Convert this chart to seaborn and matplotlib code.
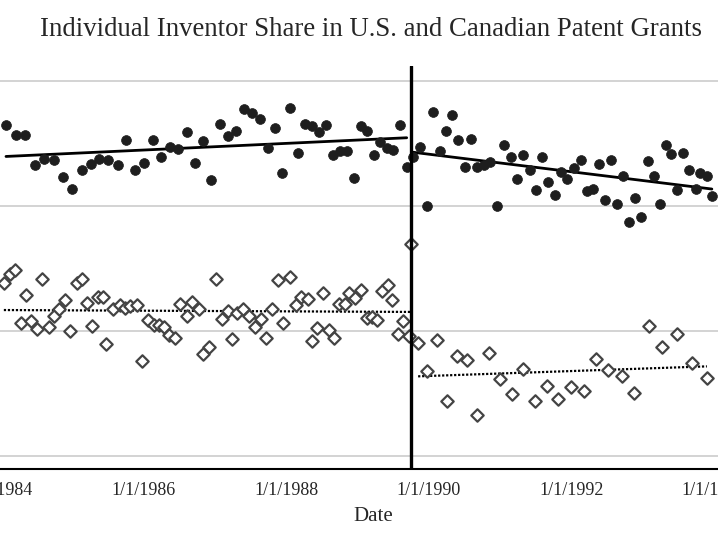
import matplotlib
matplotlib.use("Agg")
import matplotlib.pyplot as plt
import seaborn as sns

# Dates as decimal years, share values in percent
us_pre_year = [1984.07, 1984.21, 1984.34, 1984.48, 1984.60, 1984.74, 1984.87,
               1985.00, 1985.14, 1985.26, 1985.37, 1985.50, 1985.64, 1985.75, 1985.88,
               1986.01, 1986.13, 1986.24, 1986.37, 1986.48, 1986.61, 1986.72, 1986.83, 1986.95,
               1987.07, 1987.18, 1987.30, 1987.41, 1987.52, 1987.63, 1987.75, 1987.84, 1987.94,
               1988.05, 1988.17, 1988.26, 1988.36, 1988.46, 1988.56, 1988.66, 1988.76, 1988.85, 1988.95,
               1989.05, 1989.13, 1989.23, 1989.32, 1989.41, 1989.50, 1989.60, 1989.69]
us_pre_share = [23.24, 22.84, 22.84, 21.63, 21.88, 21.84, 21.15,
                20.67, 21.43, 21.67, 21.88, 21.84, 21.63, 22.64, 21.43,
                21.72, 22.64, 21.96, 22.36, 22.28, 22.96, 21.72, 22.60, 21.03,
                23.28, 22.80, 23.00, 23.88, 23.72, 23.48, 22.32, 23.12, 21.31,
                23.92, 22.12, 23.28, 23.20, 22.96, 23.24, 22.04, 22.20, 22.20, 21.11,
                23.20, 23.00, 22.04, 22.56, 22.32, 22.24, 23.24, 21.55]

us_post_year = [1989.78, 1989.88, 1989.97,
                1990.06, 1990.16, 1990.24, 1990.33, 1990.41, 1990.51, 1990.59, 1990.68, 1990.77, 1990.86, 1990.96,
                1991.05, 1991.15, 1991.24, 1991.32, 1991.42, 1991.50, 1991.59, 1991.67, 1991.77, 1991.85, 1991.94,
                1992.04, 1992.13, 1992.22, 1992.30, 1992.39, 1992.47, 1992.56, 1992.64, 1992.72, 1992.81, 1992.89, 1992.98,
                1993.07, 1993.16, 1993.24, 1993.33, 1993.40, 1993.48, 1993.57, 1993.65, 1993.75, 1993.80, 1993.90, 1993.97]
us_post_share = [21.96, 22.36, 19.99,
                 23.76, 22.20, 23.00, 23.64, 22.64, 21.55, 22.68, 21.55, 21.63, 21.76, 19.99,
                 22.44, 21.96, 21.07, 22.04, 21.43, 20.63, 21.96, 20.95, 20.43, 21.35, 21.07,
                 21.51, 21.84, 20.59, 20.67, 21.67, 20.23, 21.84, 20.07, 21.19, 19.35, 20.31, 19.55,
                 21.80, 21.19, 20.07, 22.44, 22.08, 20.63, 22.12, 21.43, 20.67, 21.31, 21.19, 20.39]

ca_pre_year = [1984.04, 1984.13, 1984.20, 1984.28, 1984.35, 1984.42, 1984.50, 1984.58, 1984.67, 1984.74,
               1984.81, 1984.90, 1984.97, 1985.07, 1985.14, 1985.21, 1985.28, 1985.36, 1985.43, 1985.47,
               1985.57, 1985.67, 1985.74, 1985.81, 1985.91, 1985.98, 1986.06, 1986.15, 1986.22, 1986.29,
               1986.36, 1986.44, 1986.51, 1986.61, 1986.68, 1986.78, 1986.83, 1986.92, 1987.02, 1987.10,
               1987.18, 1987.24, 1987.31, 1987.39, 1987.48, 1987.56, 1987.65, 1987.72, 1987.80, 1987.88,
               1987.96, 1988.05, 1988.14, 1988.21, 1988.31, 1988.36, 1988.43, 1988.52, 1988.60, 1988.67,
               1988.74, 1988.82, 1988.88, 1988.96, 1989.05, 1989.13, 1989.20, 1989.27, 1989.34, 1989.43,
               1989.48, 1989.57, 1989.64, 1989.72, 1989.75]
ca_pre_share = [16.91, 17.27, 17.43, 15.31, 16.43, 15.39, 15.07, 17.07, 15.15, 15.59,
                15.87, 16.23, 14.99, 16.91, 17.07, 16.11, 15.19, 16.35, 16.35, 14.46,
                15.87, 16.03, 15.91, 15.99, 16.03, 13.78, 15.43, 15.23, 15.23, 15.15,
                14.82, 14.70, 16.07, 15.59, 16.15, 15.87, 14.06, 14.34, 17.07, 15.47,
                15.79, 14.66, 15.71, 15.87, 15.59, 15.15, 15.47, 14.70, 15.87, 17.03,
                15.31, 17.15, 16.03, 16.35, 16.27, 14.58, 15.11, 16.51, 15.03, 14.70,
                16.07, 16.07, 16.51, 16.31, 16.63, 15.51, 15.55, 15.43, 16.59, 16.83,
                16.23, 14.86, 15.39, 14.78, 18.47]

ca_post_year = [1989.85, 1989.97, 1990.11, 1990.26, 1990.40, 1990.54, 1990.68, 1990.84, 1991.00, 1991.17,
                1991.32, 1991.49, 1991.66, 1991.81, 1991.99, 1992.18, 1992.35, 1992.51, 1992.71, 1992.88,
                1993.09, 1993.27, 1993.48, 1993.69, 1993.90]
ca_post_share = [14.50, 13.38, 14.62, 12.18, 13.98, 13.82, 11.62, 14.10, 13.06, 12.46,
                 13.46, 12.18, 12.78, 12.26, 12.74, 12.58, 13.86, 13.43, 13.18, 12.50,
                 15.19, 14.34, 14.86, 13.70, 13.10]

break_year = 1989.75
tick_years = [1984, 1986, 1988, 1990, 1992, 1994]
tick_labels = [f"1/1/{y}" for y in tick_years]

sns.set_style("white")
plt.rcParams["font.family"] = ["Liberation Serif", "DejaVu Serif"]

fig = plt.figure(figsize=(7.18, 5.39), dpi=100)
ax = fig.add_axes([0, 0.1299, 1, 0.7477])

# trend lines (linear fits per segment)
for xs, ys, ls, lw in [(us_pre_year, us_pre_share, "-", 2.0),
                       (us_post_year, us_post_share, "-", 2.0),
                       (ca_pre_year, ca_pre_share, (0, (1, 0.8)), 1.6),
                       (ca_post_year, ca_post_share, (0, (1, 0.8)), 1.6)]:
    sns.regplot(x=xs, y=ys, ax=ax, scatter=False, ci=None, truncate=True,
                line_kws=dict(color="black", linestyle=ls, linewidth=lw, zorder=2))

# Canadian share: open diamonds
sns.scatterplot(x=ca_pre_year + ca_post_year, y=ca_pre_share + ca_post_share, ax=ax,
                marker="D", s=40, color="white", edgecolor="#444444", linewidth=1.6, zorder=3)
# U.S. share: filled dots
sns.scatterplot(x=us_pre_year + us_post_year, y=us_pre_share + us_post_share, ax=ax,
                marker="o", s=50, color="#1e1e1e", edgecolor="#1e1e1e", linewidth=0.5, zorder=4)

ax.axvline(break_year, color="black", linewidth=2.4, zorder=5)

ax.set_xlim(1983.986, 1994.056)
ax.set_ylim(9.46, 25.6)
ax.set_yticks([10, 15, 20, 25])
ax.yaxis.grid(True, color="#c8c8c8", linewidth=1.1)
ax.set_axisbelow(True)
ax.tick_params(axis="y", left=False, labelleft=False)

ax.set_xticks(tick_years)
ax.set_xticklabels(tick_labels, fontsize=13)
ax.tick_params(axis="x", direction="inout", length=7, width=1.2, color="black", pad=6)

for side in ["left", "right", "top"]:
    ax.spines[side].set_visible(False)
ax.spines["bottom"].set_color("black")
ax.spines["bottom"].set_linewidth(1.5)

ax.set_xlabel("Date", fontsize=15)
ax.xaxis.set_label_coords(0.52, -0.118)
ax.xaxis.label.set_verticalalignment("center")

fig.text(0.517, 0.945, "Individual Inventor Share in U.S. and Canadian Patent Grants",
         ha="center", va="center", fontsize=19.3)

fig.savefig("out.png", dpi=100)
plt.close(fig)
